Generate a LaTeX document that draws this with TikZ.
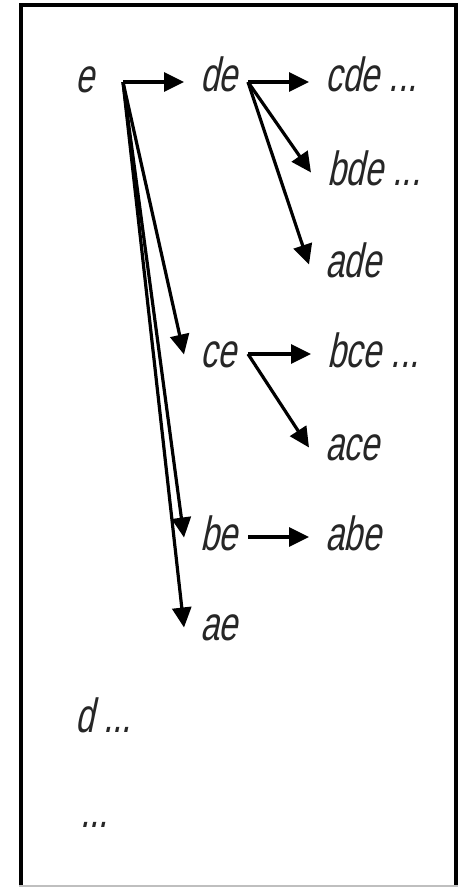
\documentclass[tikz,border=0pt]{standalone}
\usepackage{fontspec}
\setmainfont{Liberation Sans}[FakeStretch=0.7,FakeSlant=0.21]
\usetikzlibrary{arrows.meta}
\begin{document}
\begin{tikzpicture}[x=1pt,y=-1pt,
  word/.style={font=\fontsize{48pt}{56pt}\selectfont, text=black!85, inner xsep=16pt, inner ysep=0pt,
    text height=25pt, text depth=0pt, anchor=base west},
  arr/.style={line width=3.2pt, -{Triangle[length=20pt,width=19pt]}},
  frame/.style={line width=4pt}]
\useasboundingbox (0,0) rectangle (458,887);
% frame
\draw[frame] (21,886) -- (21,5) -- (456,5) -- (456,886);
\draw[line width=1.5pt, black!25] (19,886) -- (458,886);
% words
\node[word] (e)   at (59,92)  {e};
\node[word] (de)  at (184,91) {de};
\node[word] (cde) at (309,91) {cde ...};
\node[word] (bde) at (311,185) {bde ...};
\node[word] (ade) at (309,277) {ade};
\node[word] (ce)  at (184,367) {ce};
\node[word] (bce) at (311,367) {bce ...};
\node[word] (ace) at (309,460) {ace};
\node[word] (be)  at (184,550) {be};
\node[word] (abe) at (309,550) {abe};
\node[word] (ae)  at (184,640) {ae};
\node[word] (d)   at (59,732) {d ...};
\node[word] (more) at (64,827) {...};
% branch points
\coordinate (eo)  at (123,82);
\coordinate (deo) at (248,82);
\coordinate (ceo) at (248,354);
\coordinate (beo) at (248,537);
% connectors
\draw[arr] (eo) -- (de.west |- eo);
\draw[arr] (eo) -- (ce.west);
\draw[arr] (eo) -- (be.west);
\draw[arr] (eo) -- (ae.west);
\draw[arr] (deo) -- (cde.west |- deo);
\draw[arr] (deo) -- (bde.west);
\draw[arr] (deo) -- (ade.west);
\draw[arr] (ceo) -- (bce.west |- ceo);
\draw[arr] (ceo) -- (ace.west);
\draw[arr] (beo) -- (abe.west |- beo);
\end{tikzpicture}
\end{document}
